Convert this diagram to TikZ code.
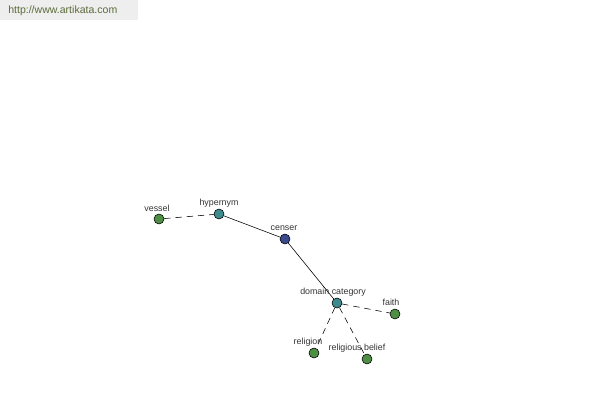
\documentclass[tikz,border=0pt]{standalone}
\usepackage{fontspec}
\setmainfont{Liberation Sans}
\definecolor{leafgreen}{HTML}{4E8F45}
\definecolor{hubteal}{HTML}{3E8A8C}
\definecolor{rootblue}{HTML}{3B4A8E}
\definecolor{bannergray}{HTML}{EEEEEE}
\definecolor{bannertext}{HTML}{5A6B3A}
\definecolor{labelgray}{HTML}{333333}
\begin{document}
\begin{tikzpicture}[x=0.025cm,y=-0.025cm]
\tikzstyle{dot}= [circle,draw,inner sep=0pt,minimum size=0.25cm]
\tikzstyle{rel}= [thin]
\tikzstyle{dom}= [thin,dash pattern=on 4.5pt off 3.5pt]
\tikzstyle{lbl}= [font=\fontsize{6.3}{7}\selectfont,inner sep=0pt,text=labelgray]

\useasboundingbox (0,0) rectangle (600,400);
\fill[bannergray] (0,0) rectangle (138,20);
\node[lbl,anchor=west,text=bannertext,font=\fontsize{7.5}{8}\selectfont] (site) at (8,11) {http://www.artikata.com};

\path
	(159,219) node[dot,fill=leafgreen] (vessel) {}
	(219,214) node[dot,fill=hubteal] (hyp) {}
	(285,239) node[dot,fill=rootblue] (censer) {}
	(337,303) node[dot,fill=hubteal] (dom) {}
	(395,314) node[dot,fill=leafgreen] (faith) {}
	(314,353) node[dot,fill=leafgreen] (religion) {}
	(367,359) node[dot,fill=leafgreen] (belief) {}
;
\draw[dom] (vessel) -- (hyp);
\draw[rel] (hyp) -- (censer);
\draw[rel] (censer) -- (dom);
\draw[dom] (dom) -- (faith);
\draw[dom] (dom) -- (religion);
\draw[dom] (dom) -- (belief);
\node[lbl] at (157,208) {vessel};
\node[lbl] at (219,203) {hypernym};
\node[lbl] at (284,228) {censer};
\node[lbl] at (333,292) {domain category};
\node[lbl] at (391,302) {faith};
\node[lbl] at (308,342) {religion};
\node[lbl] at (357,348) {religious belief};
\end{tikzpicture}
\end{document}
